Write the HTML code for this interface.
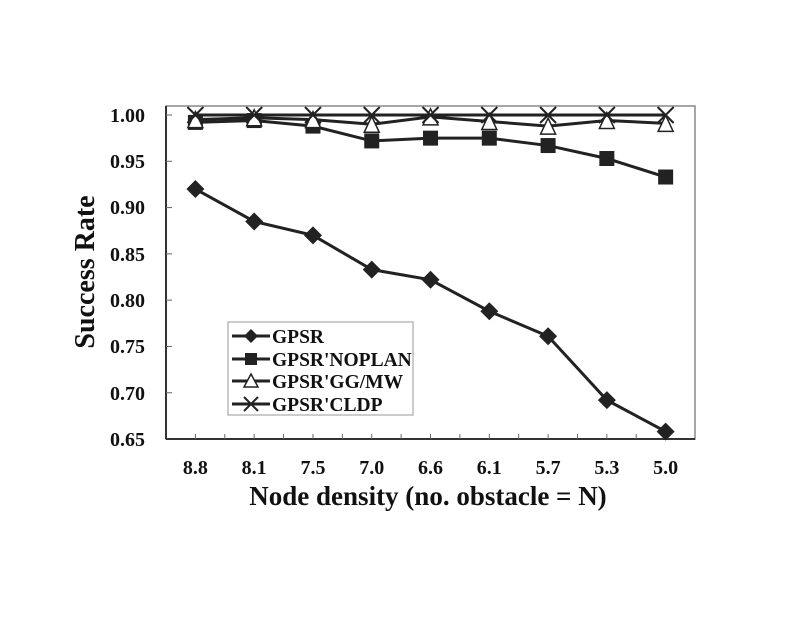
<!DOCTYPE html>
<html><head><meta charset="utf-8"><style>body{margin:0;background:#fff}</style></head>
<body>
<svg width="792" height="612" viewBox="0 0 792 612" xmlns="http://www.w3.org/2000/svg" font-family="Liberation Serif, serif" font-weight="bold">
<rect x="166" y="106" width="529" height="333" fill="none" stroke="#888" stroke-width="1.5"/>
<line x1="166" y1="106" x2="166" y2="439" stroke="#333" stroke-width="2"/>
<line x1="166" y1="439" x2="695" y2="439" stroke="#333" stroke-width="2"/>
<g stroke="#666" stroke-width="1" id="ticks"></g>
<g font-size="20" text-anchor="end" fill="#111">
<text x="145" y="122">1.00</text><text x="145" y="168">0.95</text><text x="145" y="214">0.90</text><text x="145" y="261">0.85</text><text x="145" y="307">0.80</text><text x="145" y="353">0.75</text><text x="145" y="400">0.70</text><text x="145" y="446">0.65</text>
</g>
<g font-size="20" text-anchor="middle" fill="#111" id="xl"></g>
<text x="428" y="505" font-size="27" text-anchor="middle" fill="#111">Node density (no. obstacle = N)</text>
<text transform="translate(94,272) rotate(-90)" font-size="28" text-anchor="middle" fill="#111">Success Rate</text>
<g id="series" fill="none" stroke="#222" stroke-width="3"></g>
<rect x="228" y="322" width="185" height="93" fill="#fff" stroke="#999" stroke-width="1"/>
<g stroke="#222" stroke-width="3">
<line x1="232" y1="336" x2="270" y2="336"/><line x1="232" y1="359" x2="270" y2="359"/><line x1="232" y1="381" x2="270" y2="381"/><line x1="232" y1="404" x2="270" y2="404"/>
</g>
<polygon points="251,329 258,336 251,343 244,336" fill="#222"/>
<rect x="245" y="353" width="12" height="12" fill="#222"/>
<polygon points="251,374 258,387 244,387" fill="#fff" stroke="#222" stroke-width="1.5"/>
<path d="M244,397 L258,411 M258,397 L244,411" stroke="#222" stroke-width="2"/>
<g font-size="19.5" fill="#111">
<text x="272" y="343">GPSR</text><text x="272" y="366">GPSR'NOPLAN</text><text x="272" y="388">GPSR'GG/MW</text><text x="272" y="411">GPSR'CLDP</text>
</g>
</svg>
<script>
const ns="http://www.w3.org/2000/svg";
const X=i=>166+29.4+58.78*i, Y=v=>115+(1-v)*925.7;
const labs=["8.8","8.1","7.5","7.0","6.6","6.1","5.7","5.3","5.0"];
const xl=document.getElementById("xl"), tk=document.getElementById("ticks");
function el(t,a,p){const e=document.createElementNS(ns,t);for(const k in a)e.setAttribute(k,a[k]);p.appendChild(e);return e;}
labs.forEach((l,i)=>{const t=el("text",{x:X(i),y:474},xl);t.textContent=l;});
for(let k=1;k<18;k++){const x=166+29.39*k;el("line",{x1:x,y1:439,x2:x,y2:434},tk);}
for(let k=0;k<7;k++){const y=115+46.29*k;el("line",{x1:166,y1:y,x2:172,y2:y},tk);}
const S=document.getElementById("series");
const data=[
[.92,.885,.87,.833,.822,.788,.761,.692,.658],
[.992,.994,.988,.972,.975,.975,.967,.953,.933],
[.995,.997,.995,.990,.998,.993,.988,.994,.991],
[1,1,1,1,1,1,1,1,1]];
data.forEach((d,s)=>{
 el("polyline",{points:d.map((v,i)=>X(i)+","+Y(v)).join(" ")},S);
 d.forEach((v,i)=>{const x=X(i),y=Y(v);
  if(s==0)el("polygon",{points:`${x},${y-9} ${x+9},${y} ${x},${y+9} ${x-9},${y}`,fill:"#222",stroke:"none"},S);
  if(s==1)el("rect",{x:x-7.5,y:y-7.5,width:15,height:15,fill:"#222",stroke:"none"},S);
  if(s==2)el("polygon",{points:`${x},${y-8} ${x+7.5},${y+8} ${x-7.5},${y+8}`,fill:"#fff","stroke-width":1.5},S);
  if(s==3)el("path",{d:`M${x-8},${y-8}L${x+8},${y+8}M${x+8},${y-8}L${x-8},${y+8}`,"stroke-width":2},S);
 });
});
</script>
</body></html>
